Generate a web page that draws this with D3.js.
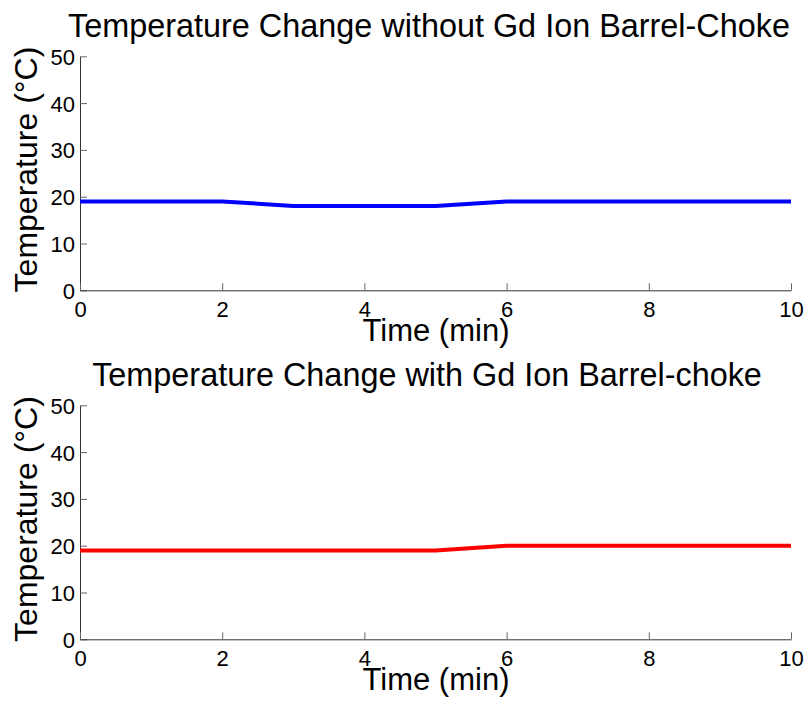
<!DOCTYPE html>
<html><head><meta charset="utf-8">
<script src="https://cdn.jsdelivr.net/npm/d3@7"></script>
<style>
html,body{margin:0;padding:0;background:#fff;}
svg{display:block;font-family:Arial,"Liberation Sans",Helvetica,sans-serif;}
</style></head>
<body>
<script>
const timeMin = [0,1,2,3,4,5,6,7,8,9,10];
const tempWithout = [19,19,19,18,18,18,19,19,19,19,19];
const tempWith = [19,19,19,19,19,19,20,20,20,20,20];
const xTicks = [0,2,4,6,8,10];
const yTicks = [0,10,20,30,40,50];
const titles = ["Temperature Change without Gd Ion Barrel-Choke","Temperature Change with Gd Ion Barrel-choke"];
const xLabel = "Time (min)";
const yLabel = "Temperature (\u00B0C)";

const W = 809, H = 706;
const svg = d3.select("body").append("svg").attr("width",W).attr("height",H);

const panels = [
  {data: tempWithout, color:"#0000ff", top:56.3, bottom:290.3, title:titles[0], titleX:429, yMid:169.5},
  {data: tempWith, color:"#ff0000", top:405.3, bottom:639.3, title:titles[1], titleX:427, yMid:519}
];
const x = d3.scaleLinear().domain([0,10]).range([80,791]);

panels.forEach(p => {
  const y = d3.scaleLinear().domain([0,50]).range([p.bottom,p.top]);
  const g = svg.append("g");
  const ya = g.append("g").attr("transform",`translate(${x(0)},0)`)
    .call(d3.axisLeft(y).tickValues(yTicks).tickSizeInner(-7).tickSizeOuter(0).tickPadding(12));
  const xa = g.append("g").attr("transform",`translate(0,${y(0)})`)
    .call(d3.axisBottom(x).tickValues(xTicks).tickSizeInner(-7).tickSizeOuter(0).tickPadding(16));
  [ya,xa].forEach(a=>{
    a.select(".domain").attr("stroke","#333").attr("stroke-width",1);
    a.selectAll(".tick line").attr("stroke","#666").attr("stroke-width",1);
    a.selectAll(".tick text").attr("fill","#000").style("font-size","22px")
      .style("font-family","Arial, 'Liberation Sans', sans-serif");
  });
  xa.selectAll(".tick text").attr("dy","0.71em").attr("y",11);
  ya.selectAll(".tick text").attr("x",-5).attr("dy","0.36em");

  const line = d3.line().x((d,i)=>x(timeMin[i])).y(d=>y(d));
  g.append("path").datum(p.data).attr("d",line)
    .attr("fill","none").attr("stroke",p.color).attr("stroke-width",4)
    .attr("stroke-linejoin","round");

  g.append("text").attr("x",p.titleX).attr("y",p.top-19.5).attr("text-anchor","middle")
    .style("font-size","32.4px").attr("fill","#000").text(p.title);
  g.append("text").attr("x",436).attr("y",p.bottom+51).attr("text-anchor","middle")
    .style("font-size","31px").attr("fill","#000").text(xLabel);
  g.append("text").attr("transform",`translate(37,${p.yMid}) rotate(-90)`)
    .attr("text-anchor","middle").style("font-size","32px").attr("fill","#000").text(yLabel);
});
</script>
</body></html>
